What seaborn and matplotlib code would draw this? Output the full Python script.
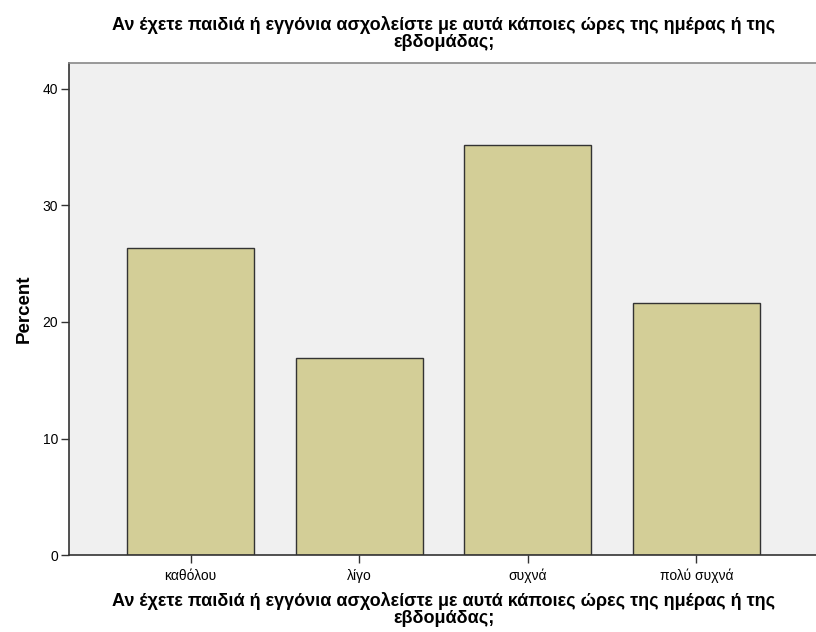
import pandas as pd
import seaborn as sns
import matplotlib.pyplot as plt

categories = ["καθόλου", "λίγο", "συχνά", "πολύ συχνά"]
percent = [26.35, 16.9, 35.15, 21.65]
y_ticks = [0, 10, 20, 30, 40]
question = "Αν έχετε παιδιά ή εγγόνια ασχολείστε με αυτά κάποιες ώρες της ημέρας ή της\nεβδομάδας;"

df = pd.DataFrame({"answer": categories, "Percent": percent})

sns.set_style("ticks")
plt.rcParams['font.family'] = ['Liberation Sans', 'DejaVu Sans']
plt.rcParams['text.color'] = 'black'
plt.rcParams['axes.labelcolor'] = 'black'
plt.rcParams['xtick.color'] = '#333333'
plt.rcParams['ytick.color'] = '#333333'
plt.rcParams['xtick.labelcolor'] = 'black'
plt.rcParams['ytick.labelcolor'] = 'black'

fig = plt.figure(figsize=(8.16, 6.32), dpi=100)
ax = fig.add_axes([0.0846, 0.1218, 0.918, 0.778])
ax.set_facecolor("#F0F0F0")

sns.barplot(data=df, x="answer", y="Percent", color="#D3CE97", saturation=1,
            width=0.755, edgecolor="#333333", linewidth=1, ax=ax)

ax.set_xlim(-0.722, 3.722)
ax.set_ylim(0, 42.2)
ax.set_yticks(y_ticks)
ax.tick_params(axis="both", labelsize=10, length=6, width=1, pad=2)
ax.tick_params(axis="x", pad=4)

for side in ["left", "bottom"]:
    ax.spines[side].set_color("#333333")
    ax.spines[side].set_linewidth(1.2)
ax.spines["top"].set_color("#888888")
ax.spines["top"].set_linewidth(1.2)
ax.spines["right"].set_visible(False)

ax.set_title(question, fontsize=13, fontweight="bold", pad=12, linespacing=1.0)
ax.set_xlabel(question, fontsize=13, fontweight="bold", labelpad=6, linespacing=1.0)
ax.set_ylabel("Percent", fontsize=13.5, fontweight="bold", labelpad=7)

fig.savefig("out.png", dpi=100)
